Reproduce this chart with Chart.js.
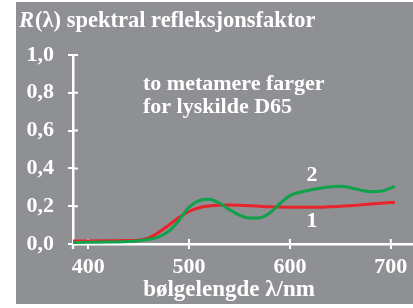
<!DOCTYPE html>
<html>
<head>
<meta charset="utf-8">
<script src="https://cdn.jsdelivr.net/npm/chart.js@4.4.0/dist/chart.umd.min.js"></script>
<style>
html, body { margin: 0; padding: 0; background: #fff; }
#panel { position: absolute; left: 16px; top: 2px; width: 397px; height: 302px; background: #8f9094; }
#wrap { position: absolute; left: 0; top: 0; width: 413px; height: 308px; }
</style>
</head>
<body>
<div id="panel"></div>
<div id="wrap"><canvas id="chart" width="413" height="308"></canvas></div>
<script>
// wavelength in nm
const wavelengths = [385, 400, 420, 440, 450, 460, 470, 480, 490, 500, 510, 520, 530, 540, 550, 560, 570, 580, 590, 600, 610, 620, 630, 640, 650, 660, 670, 680, 690, 700, 704];
// curve 1 (red)
const curve1 = [0.016, 0.016, 0.017, 0.018, 0.02, 0.032, 0.062, 0.1, 0.14, 0.172, 0.192, 0.201, 0.205, 0.206, 0.205, 0.203, 0.2, 0.197, 0.196, 0.195, 0.194, 0.194, 0.195, 0.197, 0.2, 0.203, 0.207, 0.212, 0.216, 0.219, 0.219];
// curve 2 (green)
const curve2 = [0.008, 0.009, 0.01, 0.013, 0.017, 0.025, 0.038, 0.068, 0.125, 0.195, 0.23, 0.237, 0.217, 0.182, 0.153, 0.137, 0.138, 0.164, 0.213, 0.256, 0.274, 0.286, 0.295, 0.303, 0.306, 0.298, 0.285, 0.277, 0.279, 0.296, 0.307];

const xTicks = [400, 500, 600, 700];
const yTicks = [0, 0.2, 0.4, 0.6, 0.8, 1.0];

const titleText = '(λ) spektral refleksjonsfaktor';
const noteLines = ['to metamere farger', 'for lyskilde D65'];
const xTitle = 'bølgelengde λ/nm';
const curveLabels = [{ text: '1', x: 622, y: 0.122 }, { text: '2', x: 622, y: 0.362 }];

const FONT = '"Liberation Serif", "Times New Roman", serif';
const WHITE = '#ffffff';

// ticks crossing both sides of the axes
const crossTicks = {
    id: 'crossTicks',
    beforeDatasetsDraw(chart) {
        const { ctx, chartArea, scales } = chart;
        ctx.save();
        ctx.strokeStyle = WHITE;
        ctx.lineWidth = 2;
        ctx.beginPath();
        xTicks.forEach(v => {
            const px = scales.x.getPixelForValue(v);
            ctx.moveTo(px, chartArea.bottom);
            ctx.lineTo(px, chartArea.bottom - 5);
        });
        yTicks.forEach(v => {
            const py = scales.y.getPixelForValue(v);
            ctx.moveTo(chartArea.left, py);
            ctx.lineTo(chartArea.left + 5, py);
        });
        ctx.stroke();
        ctx.lineWidth = 2.5;
        ctx.beginPath();
        ctx.moveTo(chartArea.left, chartArea.bottom);
        ctx.lineTo(chartArea.left, chartArea.bottom + 5);
        ctx.stroke();
        ctx.restore();
    }
};

const texts = {
    id: 'texts',
    afterDraw(chart) {
        const { ctx, scales } = chart;
        ctx.save();
        ctx.fillStyle = WHITE;
        ctx.textBaseline = 'alphabetic';
        ctx.textAlign = 'left';
        // title
        ctx.font = 'italic bold 22.5px ' + FONT;
        ctx.fillText('R', 19, 27);
        const rw = ctx.measureText('R').width;
        ctx.font = 'bold 22.5px ' + FONT;
        ctx.fillText(titleText, 19 + rw + 1, 27);
        // note
        ctx.font = 'bold 22px ' + FONT;
        ctx.fillText(noteLines[0], 143, 90);
        ctx.fillText(noteLines[1], 143, 113);
        // curve labels
        ctx.textAlign = 'center';
        ctx.textBaseline = 'middle';
        curveLabels.forEach(l => {
            ctx.fillText(l.text, scales.x.getPixelForValue(l.x), scales.y.getPixelForValue(l.y));
        });
        // x title
        ctx.textBaseline = 'alphabetic';
        ctx.font = 'bold 23px ' + FONT;
        ctx.fillText(xTitle, 229, 296);
        ctx.restore();
    }
};

new Chart(document.getElementById('chart').getContext('2d'), {
    type: 'line',
    data: {
        datasets: [{
            label: '1',
            data: wavelengths.map((x, i) => ({ x: x, y: curve1[i] })),
            borderColor: '#e8232a',
            borderWidth: 3,
            pointRadius: 0,
            cubicInterpolationMode: 'monotone',
            order: 2
        }, {
            label: '2',
            data: wavelengths.map((x, i) => ({ x: x, y: curve2[i] })),
            borderColor: '#0fa24b',
            borderWidth: 3,
            pointRadius: 0,
            cubicInterpolationMode: 'monotone',
            order: 1
        }]
    },
    options: {
        responsive: false,
        animation: false,
        devicePixelRatio: 1,
        layout: { padding: { top: 55, left: 0, right: 0, bottom: 0 }, autoPadding: false },
        plugins: { legend: { display: false }, tooltip: { enabled: false } },
        scales: {
            x: {
                type: 'linear',
                min: 385,
                max: 722,
                afterBuildTicks: s => { s.ticks = xTicks.map(v => ({ value: v })); },
                afterFit: s => { s.height = 64; },
                ticks: {
                    color: WHITE,
                    font: { family: FONT, size: 22, weight: 'bold' },
                    padding: 5,
                    maxRotation: 0,
                    callback: v => String(v)
                },
                grid: { drawOnChartArea: false, drawTicks: true, tickLength: 5, color: WHITE, lineWidth: 2 },
                border: { color: WHITE, width: 2.5 }
            },
            y: {
                min: 0,
                max: 1,
                afterBuildTicks: s => { s.ticks = yTicks.map(v => ({ value: v })); },
                afterFit: s => { s.width = 73; },
                ticks: {
                    color: WHITE,
                    font: { family: FONT, size: 22, weight: 'bold' },
                    padding: 14,
                    callback: v => v.toFixed(1).replace('.', ',')
                },
                grid: { drawOnChartArea: false, drawTicks: true, tickLength: 5, color: WHITE, lineWidth: 2 },
                border: { color: WHITE, width: 2.5 }
            }
        }
    },
    plugins: [crossTicks, texts]
});
</script>
</body>
</html>
